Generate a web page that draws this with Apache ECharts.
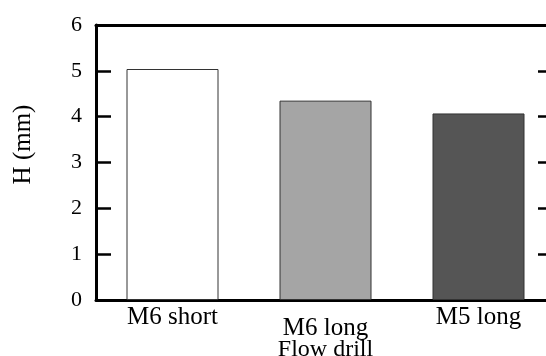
<!DOCTYPE html>
<html>
<head>
<meta charset="utf-8">
<script src="https://cdn.jsdelivr.net/npm/echarts@6/dist/echarts.min.js"></script>
<style>
  html, body { margin: 0; padding: 0; background: #fff; }
  #chart { width: 546px; height: 356px; }
</style>
</head>
<body>
<div id="chart"></div>
<script>
// drill types and measured height
const categories = ["M6 short", "M6 long", "M5 long"];
const heights = [5.04, 4.35, 4.07];
const barColors = ["#ffffff", "#a5a5a5", "#555555"];
const yTicks = [0, 1, 2, 3, 4, 5, 6];

const font = "'Liberation Serif', 'Times New Roman', serif";

const chart = echarts.init(document.getElementById("chart"));

chart.setOption({
  animation: false,
  grid: {
    left: 96,
    width: 459,
    top: 25,
    height: 275,
    containLabel: false,
    outerBoundsMode: "none",
  },
  xAxis: [
    {
      type: "category",
      data: categories,
      position: "bottom",
      name: "Flow drill",
      nameLocation: "middle",
      nameGap: 38,
      nameMoveOverlap: false,
      nameTextStyle: { fontFamily: font, fontSize: 24, color: "#000" },
      axisLine: { onZero: false, lineStyle: { color: "#000", width: 3 } },
      axisTick: { show: false },
      axisLabel: {
        interval: 0,
        margin: 5,
        formatter: (v, i) => (i === 1 ? "{low|" + v + "}" : "{norm|" + v + "}"),
        rich: {
          norm: { fontFamily: font, fontSize: 25, color: "#000" },
          low: { fontFamily: font, fontSize: 25, color: "#000", padding: [11, 0, 0, 0] },
        },
      },
    },
    {
      type: "category",
      data: categories,
      position: "top",
      axisLine: { onZero: false, lineStyle: { color: "#000", width: 3 } },
      axisTick: { show: false },
      axisLabel: { show: false },
    },
  ],
  yAxis: [
    {
      type: "value",
      min: 0,
      max: 6,
      interval: 1,
      name: "H (mm)",
      nameLocation: "middle",
      nameGap: 60,
      nameMoveOverlap: false,
      nameTextStyle: { fontFamily: font, fontSize: 25, color: "#000", padding: [0, 0, 0, 36] },
      axisLine: { show: true, onZero: false, lineStyle: { color: "#000", width: 3 } },
      axisTick: { show: true, inside: true, length: 15, lineStyle: { color: "#000", width: 2.5 } },
      axisLabel: {
        margin: 14,
        fontFamily: font,
        fontSize: 22,
        color: "#000",
        formatter: (v) => (yTicks.includes(v) ? String(v) : ""),
      },
      splitLine: { show: false },
    },
    {
      type: "value",
      min: 0,
      max: 6,
      interval: 1,
      position: "right",
      axisLine: { show: false },
      axisTick: { show: true, inside: true, length: 17, lineStyle: { color: "#000", width: 2.5 } },
      axisLabel: { show: false },
      splitLine: { show: false },
    },
  ],
  series: [
    {
      type: "bar",
      barWidth: 92,
      data: heights.map((h, i) => ({
        value: h,
        itemStyle: { color: barColors[i], borderColor: "#333", borderWidth: 1 },
      })),
    },
  ],
});
</script>
</body>
</html>
